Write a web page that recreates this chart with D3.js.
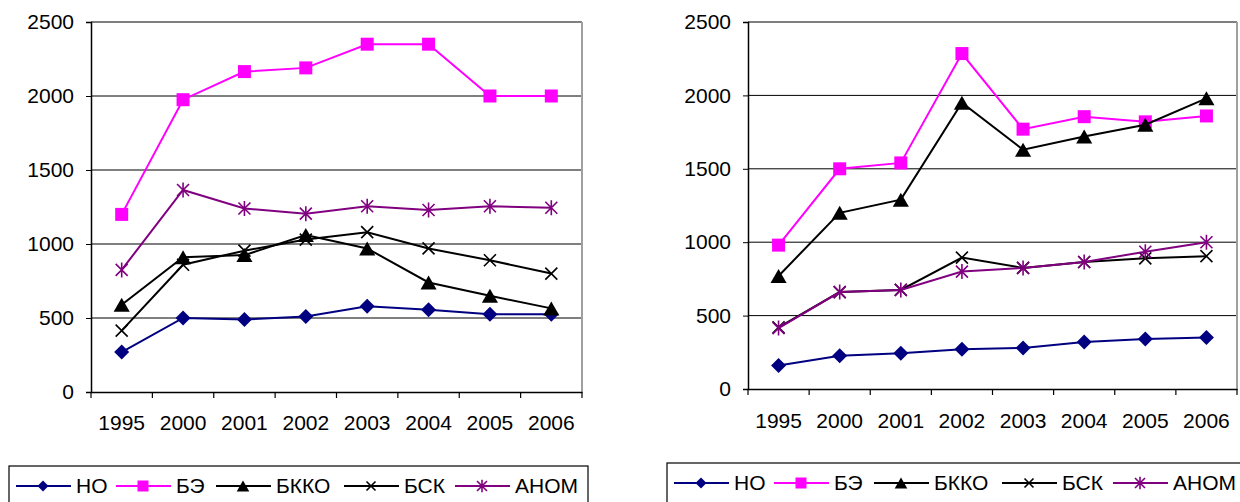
<!DOCTYPE html>
<meta charset="utf-8">
<script src="https://d3js.org/d3.v7.min.js"></script>
<style>
  body { margin: 0; background: #fff; }
  text { font-family: "Liberation Sans", Arial, sans-serif; }
</style>
<div id="chart"></div>
<script>

// categories and series
var years = ["1995", "2000", "2001", "2002", "2003", "2004", "2005", "2006"];
var seriesNames = ["НО", "БЭ", "БККО", "БСК", "АНОМ"];
var yTicks = [0, 500, 1000, 1500, 2000, 2500];

var leftNO   = [270, 500, 490, 510, 580, 555, 525, 525];
var leftBE   = [1200, 1975, 2165, 2190, 2350, 2350, 2000, 2000];
var leftBKKO = [590, 910, 925, 1060, 970, 740, 650, 565];
var leftBSK  = [415, 860, 955, 1030, 1080, 970, 890, 800];
var leftANOM = [825, 1365, 1240, 1205, 1255, 1230, 1255, 1245];

var rightNO   = [160, 227, 243, 270, 280, 320, 340, 350];
var rightBE   = [980, 1500, 1540, 2285, 1770, 1855, 1820, 1860];
var rightBKKO = [770, 1200, 1290, 1950, 1630, 1720, 1800, 1980];
var rightBSK  = [420, 660, 675, 895, 825, 865, 890, 905];
var rightANOM = [415, 660, 675, 800, 825, 865, 935, 1000];

var colors = ["#000080", "#ff00ff", "#000000", "#000000", "#800080"];
var markers = ["diamond", "square", "triangle", "cross", "star"];

// legend entry offsets inside the legend box
var legendOffsets = [7, 107, 207, 335, 446];

var svg = d3.select("#chart")
  .append("svg")
    .attr("width", 1240)
    .attr("height", 502);

function markerPath(type, s) {
  if (type == "diamond") return "M0," + (-s) + "L" + s + ",0L0," + s + "L" + (-s) + ",0Z";
  if (type == "square") return "M" + (-s) + "," + (-s) + "H" + s + "V" + s + "H" + (-s) + "Z";
  if (type == "triangle") return "M0," + (-s) + "L" + (s * 1.15) + "," + s + "L" + (-s * 1.15) + "," + s + "Z";
  if (type == "cross") return "M" + (-s) + "," + (-s) + "L" + s + "," + s + "M" + (-s) + "," + s + "L" + s + "," + (-s);
  // star: X plus vertical bar
  return "M" + (-s) + "," + (-s) + "L" + s + "," + s + "M" + (-s) + "," + s + "L" + s + "," + (-s) +
         "M0," + (-s * 1.25) + "L0," + (s * 1.25);
}

function drawMarker(g, type, color, x, y, s) {
  var filled = (type == "diamond" || type == "square" || type == "triangle");
  g.append("path")
    .attr("d", markerPath(type, s))
    .attr("transform", "translate(" + x + "," + y + ")")
    .attr("fill", filled ? color : "none")
    .attr("stroke", filled ? "none" : color)
    .attr("stroke-width", 1.6);
}

var markerSize = { diamond: 7.5, square: 6.5, triangle: 7, cross: 6, star: 6 };
var legendMarkerSize = { diamond: 5.5, square: 5.5, triangle: 5.5, cross: 4.5, star: 5 };

function drawChart(opts, series) {
  var x = d3.scaleBand().domain(years).range([opts.left, opts.right]);
  var y = d3.scaleLinear().domain([0, 2500]).range([opts.bottom, opts.top]);
  var cx = function(d, i) { return x(years[i]) + x.bandwidth() / 2; };

  var g = svg.append("g");

  // gridlines
  g.selectAll("line.grid")
    .data(yTicks.filter(function(d) { return d > 0; }))
    .enter()
    .append("line")
      .attr("x1", opts.left).attr("x2", opts.right)
      .attr("y1", function(d) { return y(d); })
      .attr("y2", function(d) { return y(d); })
      .attr("stroke", "#000")
      .attr("stroke-width", 1);

  // plot area right border
  g.append("line")
    .attr("x1", opts.right).attr("x2", opts.right)
    .attr("y1", opts.top).attr("y2", opts.bottom)
    .attr("stroke", "#a0a0a0")
    .attr("stroke-width", 2);

  // Y axis
  var yAxis = d3.axisLeft(y).tickValues(yTicks).tickSize(5).tickPadding(12).tickFormat(d3.format("d"));
  var ya = g.append("g")
    .attr("transform", "translate(" + opts.left + ",0)")
    .call(yAxis);
  ya.select(".domain").attr("stroke", "#000").attr("stroke-width", 1.5);
  ya.selectAll("text").style("font-size", "21px").attr("fill", "#000");

  // X axis: labels centered in band, tick marks at band edges
  var xAxis = d3.axisBottom(x).tickSize(0).tickPadding(opts.labelPad);
  var xa = g.append("g")
    .attr("transform", "translate(0," + opts.bottom + ")")
    .call(xAxis);
  xa.select(".domain").attr("stroke", "#000").attr("stroke-width", 1.5);
  xa.selectAll("text").style("font-size", "21px").attr("fill", "#000");

  var edges = years.map(function(d) { return x(d); }).concat([opts.right]);
  g.selectAll("line.xtick")
    .data(edges)
    .enter()
    .append("line")
      .attr("x1", function(d) { return d; })
      .attr("x2", function(d) { return d; })
      .attr("y1", opts.bottom)
      .attr("y2", opts.bottom + 6)
      .attr("stroke", "#000")
      .attr("stroke-width", 1.2);

  // lines + markers
  var line = d3.line()
    .x(cx)
    .y(function(d) { return y(d); });

  for (var k = 0; k < series.length; k++) {
    g.append("path")
      .datum(series[k])
      .attr("d", line)
      .attr("fill", "none")
      .attr("stroke", colors[k])
      .attr("stroke-width", 2);
    for (var i = 0; i < series[k].length; i++) {
      drawMarker(g, markers[k], colors[k], cx(series[k][i], i), y(series[k][i]), markerSize[markers[k]]);
    }
  }

  // legend
  var lg = svg.append("g");
  lg.append("rect")
    .attr("x", opts.legendX)
    .attr("y", opts.legendY)
    .attr("width", opts.legendW)
    .attr("height", 60)
    .attr("fill", "#fff")
    .attr("stroke", "#000")
    .attr("stroke-width", 1.2);

  var ly = opts.legendY + 20;
  for (var k = 0; k < seriesNames.length; k++) {
    var pos = opts.legendX + legendOffsets[k];
    lg.append("line")
      .attr("x1", pos).attr("x2", pos + 55)
      .attr("y1", ly).attr("y2", ly)
      .attr("stroke", colors[k])
      .attr("stroke-width", 2);
    drawMarker(lg, markers[k], colors[k], pos + 27, ly, legendMarkerSize[markers[k]]);
    lg.append("text")
      .attr("x", pos + 60)
      .attr("y", ly + 7)
      .style("font-size", "21px")
      .attr("fill", "#000")
      .text(seriesNames[k]);
  }
}

drawChart(
  { left: 91, right: 582, top: 22, bottom: 392, labelPad: 23, legendX: 9, legendY: 466, legendW: 579 },
  [leftNO, leftBE, leftBKKO, leftBSK, leftANOM]
);
drawChart(
  { left: 748, right: 1237, top: 22, bottom: 389, labelPad: 24, legendX: 667, legendY: 463, legendW: 600 },
  [rightNO, rightBE, rightBKKO, rightBSK, rightANOM]
);

</script>
